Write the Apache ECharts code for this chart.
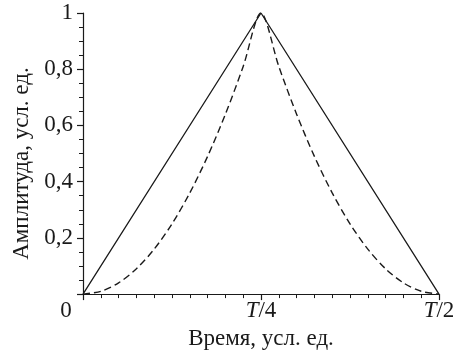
<!DOCTYPE html>
<html>
<head>
<meta charset="utf-8">
<script src="https://cdn.jsdelivr.net/npm/echarts@6/dist/echarts.min.js"></script>
<style>
html, body { margin: 0; padding: 0; background: #fff; }
#chart { width: 464px; height: 355px; }
</style>
</head>
<body>
<div id="chart"></div>
<script>
// time in units of T/40
const triangleTime = [0, 10, 20];
const triangleAmp = [0, 1, 0];
const curveTime = [0, 1, 2, 3, 4, 5, 6, 7, 8, 9, 10, 11, 12, 13, 14, 15, 16, 17, 18, 19, 20];
const curveAmp = [0, 0.01, 0.04, 0.09, 0.16, 0.25, 0.36, 0.49, 0.64, 0.81, 1,
    0.81, 0.64, 0.49, 0.36, 0.25, 0.16, 0.09, 0.04, 0.01, 0];
const xTickLabels = { 0: '{z|0}', 10: '{i|T}{n|/4}', 20: '{i|T}{n|/2}' };
const yTickLabels = { 0.2: '0,2', 0.4: '0,4', 0.6: '0,6', 0.8: '0,8', 1: '1' };

const font = 'Liberation Serif';
const fs = 23;
const ink = '#1a1a1a';

let chart = echarts.init(document.getElementById('chart'), null, { renderer: 'canvas' });

const zip = function (xs, ys) {
    return xs.map((x, i) => [x, ys[i]]);
};

chart.setOption({
    animation: false,
    backgroundColor: '#fff',
    grid: { left: 83, right: 25, top: 13, bottom: 58 },
    xAxis: {
        type: 'value',
        min: 0,
        max: 20,
        interval: 10,
        name: 'Время, усл. ед.',
        nameLocation: 'middle',
        nameGap: 29,
        nameTextStyle: { fontFamily: font, fontSize: fs, color: ink },
        axisLine: { lineStyle: { color: ink, width: 1.2 } },
        axisTick: { length: 6, lineStyle: { color: ink, width: 1.2 } },
        minorTick: { show: true, splitNumber: 10, length: 4, lineStyle: { color: ink, width: 1 } },
        splitLine: { show: false },
        axisLabel: {
            margin: 5,
            formatter: v => xTickLabels[v] || '',
            rich: {
                z: { fontFamily: font, fontSize: fs, color: ink, padding: [0, 34, 0, 0] },
                i: { fontFamily: font, fontSize: fs, color: ink, fontStyle: 'italic' },
                n: { fontFamily: font, fontSize: fs, color: ink }
            }
        }
    },
    yAxis: {
        type: 'value',
        min: 0,
        max: 1,
        interval: 0.2,
        name: 'Амплитуда, усл. ед.',
        nameLocation: 'middle',
        nameGap: 47,
        nameTextStyle: { fontFamily: font, fontSize: fs, color: ink, padding: [0, 20, 0, 0] },
        axisLine: { show: true, lineStyle: { color: ink, width: 1.2 } },
        axisTick: { show: true, length: 6, lineStyle: { color: ink, width: 1.2 } },
        minorTick: { show: true, splitNumber: 4, length: 4, lineStyle: { color: ink, width: 1 } },
        splitLine: { show: false },
        axisLabel: {
            margin: 10,
            fontFamily: font,
            fontSize: fs,
            color: ink,
            formatter: v => yTickLabels[Math.round(v * 10) / 10] || ''
        }
    },
    series: [
        {
            type: 'line',
            data: zip(triangleTime, triangleAmp),
            symbol: 'none',
            lineStyle: { color: ink, width: 1.3 }
        },
        {
            type: 'line',
            data: zip(curveTime, curveAmp),
            symbol: 'none',
            smooth: 0.3,
            lineStyle: { color: ink, width: 1.4, type: [7, 4] }
        }
    ]
});
</script>
</body>
</html>
